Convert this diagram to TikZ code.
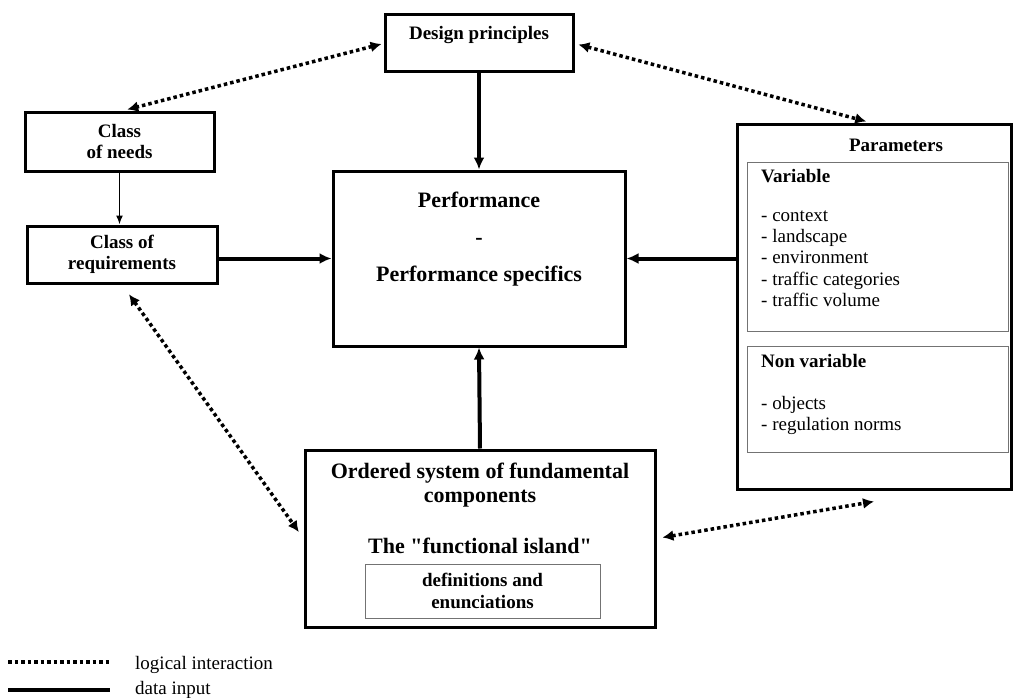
\documentclass[tikz,border=0pt]{standalone}
\usepackage{fontspec}
\setmainfont{Liberation Serif}[Ligatures=TeXOff]
\usetikzlibrary{arrows.meta}

\begin{document}
\begin{tikzpicture}[x=1pt,y=-1pt,
  box/.style n args={2}{rectangle,draw,line width=3pt,minimum width=#1pt,minimum height=#2pt,inner sep=0pt},
  subbox/.style n args={2}{rectangle,draw=black!55,line width=1pt,minimum width=#1pt,minimum height=#2pt,inner sep=0pt},
  hd/.style={font=\fontsize{19}{21}\selectfont\bfseries,inner sep=0pt,align=center},
  bighd/.style={font=\fontsize{22}{24}\selectfont\bfseries,inner sep=0pt,align=center},
  itm/.style={font=\fontsize{19}{21}\selectfont,inner sep=0pt,anchor=west,text height=13pt,text depth=4pt},
  datain/.style={line width=4pt,-{Latex[length=12pt,width=11pt]}},
  thinin/.style={line width=1.5pt,-{Latex[length=9pt,width=7pt]}},
  dotline/.style={line width=3.5pt,dash pattern=on 3.5pt off 3pt},
  logic/.style={dotline,{Latex[length=11pt,width=11pt]}-{Latex[length=11pt,width=11pt]}}]
\useasboundingbox (0,0) rectangle (1014,698);

\node[box={188}{57}] (design) at (479,43.5) {};
\node[hd] (designtxt) at (479,35) {Design principles};
\node[box={189}{58},hd] (needs) at (119.5,142) {Class\\of needs};
\node[box={190}{57},hd] (req) at (122,254.5) {Class of\\requirements};
\node[box={292}{175}] (perf) at (479,258.5) {};
\node[bighd,font=\fontsize{22}{37}\selectfont\bfseries] (perftxt) at (479,239) {Performance\\-\\Performance specifics};

\node[box={274}{364}] (param) at (874,307) {};
\node[hd] (paramtxt) at (896,145) {Parameters};
\node[subbox={261}{169}] (var) at (877.5,246.5) {};
\node[itm,font=\fontsize{19}{21}\selectfont\bfseries] (vartxt) at (761,178) {Variable};
\foreach \y/\t in %
{217/context,238/landscape,259/environment,281/traffic categories,302/traffic volume} {
   \node[itm] (v\y) at (761,\y) {- \t};
}
\node[subbox={261}{106}] (nonvar) at (877.5,399) {};
\node[itm,font=\fontsize{19}{21}\selectfont\bfseries] (nonvartxt) at (761,363) {Non variable};
\foreach \y/\t in %
{405/objects,426/regulation norms} {
   \node[itm] (n\y) at (761,\y) {- \t};
}

\node[box={350}{177}] (ordered) at (480,538.5) {};
\node[bighd] (orderedtxt) at (480,485) {Ordered system of fundamental\\components};
\node[bighd] (island) at (480,546) {The "functional island"};
\node[subbox={235}{54},hd,font=\fontsize{19}{22}\selectfont\bfseries] (defs) at (482.5,591) {definitions and\\enunciations};

\draw[datain] (design) -- (perf);
\draw[thinin] (needs.south) -- (needs.south |- req.north);
\draw[datain] (req.east |- perf.west) -- (perf.west);
\draw[datain] (param.west |- perf.east) -- (perf.east);
\draw[datain] (ordered.north) -- (perf.south);

\draw[logic,shorten <=2pt,shorten >=8pt] (design.west) -- (needs.north);
\draw[logic,shorten <=4pt,shorten >=8pt] (design.east) -- (param.north);
\draw[logic,shorten <=12pt,shorten >=8pt] (req.south) -- (ordered.west);
\draw[logic,shorten <=6pt] (ordered.east) -- ([yshift=-11pt]param.south);

\coordinate (dota) at (8,662);
\coordinate (dotb) at (110,662);
\coordinate (sola) at (8,690);
\coordinate (solb) at (110,690);
\draw[dotline] (dota) -- (dotb);
\draw[line width=4pt] (sola) -- (solb);
\node[itm] (logictxt) at (135,665) {logical interaction};
\node[itm] (datatxt) at (135,690) {data input};
\end{tikzpicture}
\end{document}
